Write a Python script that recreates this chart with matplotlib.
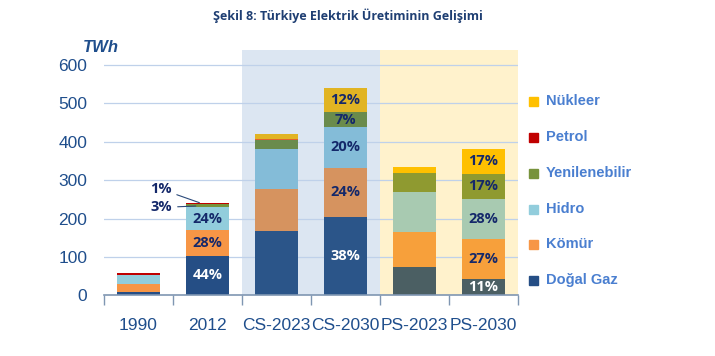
import numpy as np
import matplotlib
matplotlib.use("Agg")
import matplotlib.pyplot as plt
from matplotlib.patches import Rectangle

# values in TWh
categories = ["1990", "2012", "CS-2023", "CS-2030", "PS-2023", "PS-2030"]
dogal_gaz = [10, 104, 169, 204, 74, 42]
komur = [19, 66, 107, 128, 92, 104]
hidro = [24, 60, 104, 106, 102, 105]
yenilenebilir = [1, 7, 24, 38, 50, 66]
petrol = [4, 3, 2, 0, 0, 0]
nukleer = [0, 0, 15, 64, 16, 65]

series_names = ["Doğal Gaz", "Kömür", "Hidro", "Yenilenebilir", "Petrol", "Nükleer"]
series_vals = [dogal_gaz, komur, hidro, yenilenebilir, petrol, nukleer]

# percent labels per bar (None = no label)
pct_labels = {
    1: ["44%", "28%", "24%", None, None, None],
    3: ["38%", "24%", "20%", "7%", None, "12%"],
    5: ["11%", "27%", "28%", "17%", None, "17%"],
}

# colours: history bars, CS bars, PS bars
col_hist = ["#254e85", "#f79646", "#92cddc", "#77933c", "#c00000", "#ffc000"]
col_cs = ["#2b5589", "#d6935f", "#84bcd8", "#6a8b4c", "#e0642c", "#e1b423"]
col_ps = ["#4b5f63", "#f7a03b", "#a8cab1", "#8f9a30", "#c00000", "#ffc000"]
bar_cols = [col_hist, col_hist, col_cs, col_cs, col_ps, col_ps]

blue_txt = "#1f4e8c"
navy = "#14286a"

fig = plt.figure(figsize=(7.15, 3.56), dpi=100)
ax = fig.add_axes([0.1455, 0.17, 0.579, 0.69])

x = np.arange(len(categories))
ax.set_xlim(-0.5, 5.5)
ax.set_ylim(0, 639)

# scenario shading
ax.axvspan(1.5, 3.5, color="#dce6f2", zorder=0, lw=0)
ax.axvspan(3.5, 5.5, color="#fff2cc", zorder=0, lw=0)

for yv in range(100, 700, 100):
    ax.axhline(yv, color="#bfd1ea", lw=0.9, zorder=1)

bottom = np.zeros(len(categories))
for k, vals in enumerate(series_vals):
    vals = np.array(vals, dtype=float)
    cols = [bar_cols[i][k] for i in range(len(categories))]
    ax.bar(x, vals, 0.62, bottom=bottom, color=cols, zorder=2, lw=0)
    for i, lab in pct_labels.items():
        if lab[k]:
            tc = "white" if k == 0 else navy
            ax.text(x[i], bottom[i] + vals[i] / 2, lab[k], ha="center", va="center",
                    fontsize=10.5, fontweight="bold", color=tc, family="Open Sans", zorder=3)
    bottom += vals

# small shares of 2012 with leader lines
top12 = bottom[1]
ax.annotate("1%", xy=(0.92, top12 - 1), xytext=(0.32, 277), fontsize=10.5, fontweight="bold",
            color=navy, family="Open Sans", ha="center", va="center",
            arrowprops=dict(arrowstyle="-", color="#2b4a7a", lw=0.8))
ax.annotate("3%", xy=(0.87, top12 - 7), xytext=(0.33, 229), fontsize=10.5, fontweight="bold",
            color=navy, family="Open Sans", ha="center", va="center",
            arrowprops=dict(arrowstyle="-", color="#2b4a7a", lw=0.8))

ax.set_xticks(np.arange(-0.5, 6, 1))
ax.set_xticklabels([])
ax.set_xticks(x, minor=True)
ax.set_xticklabels(categories, minor=True, fontsize=12.5, color=blue_txt, family="Liberation Sans")
ax.tick_params(axis="x", which="major", length=7, color="#7f96b2", width=1)
ax.tick_params(axis="x", which="minor", length=0, pad=16)

ax.set_yticks(range(0, 700, 100))
ax.set_yticklabels([str(v) for v in range(0, 700, 100)], fontsize=12.5, color=blue_txt,
                   family="Liberation Sans")
ax.tick_params(axis="y", length=0, pad=12)

for s in ["top", "right", "left"]:
    ax.spines[s].set_visible(False)
ax.spines["bottom"].set_color("#7f96b2")
ax.spines["bottom"].set_linewidth(1.2)
ax.spines["bottom"].set_zorder(4)

fig.text(0.116, 0.855, "TWh", fontsize=12, fontstyle="italic", fontweight="bold",
         color=blue_txt, family="Liberation Sans")

fig.text(0.486, 0.955, "Şekil 8: Türkiye Elektrik Üretiminin Gelişimi", ha="center", va="center",
         fontsize=9, fontweight="bold", color="#1f3f73", family="Open Sans")

# legend drawn by hand on the right
leg_y = [279, 243, 208, 172, 136, 100]
for k, name in enumerate(series_names):
    yy = 1 - leg_y[k] / 356
    fig.patches.append(Rectangle((529 / 715, yy - 0.016), 0.0125, 0.025, transform=fig.transFigure,
                                 color=col_hist[k]))
    fig.text(546 / 715, yy - 0.003, name, fontsize=10.5, fontweight="bold", color="#4a7fd0",
             va="center", family="Liberation Sans")

fig.savefig("out.png", dpi=100)
